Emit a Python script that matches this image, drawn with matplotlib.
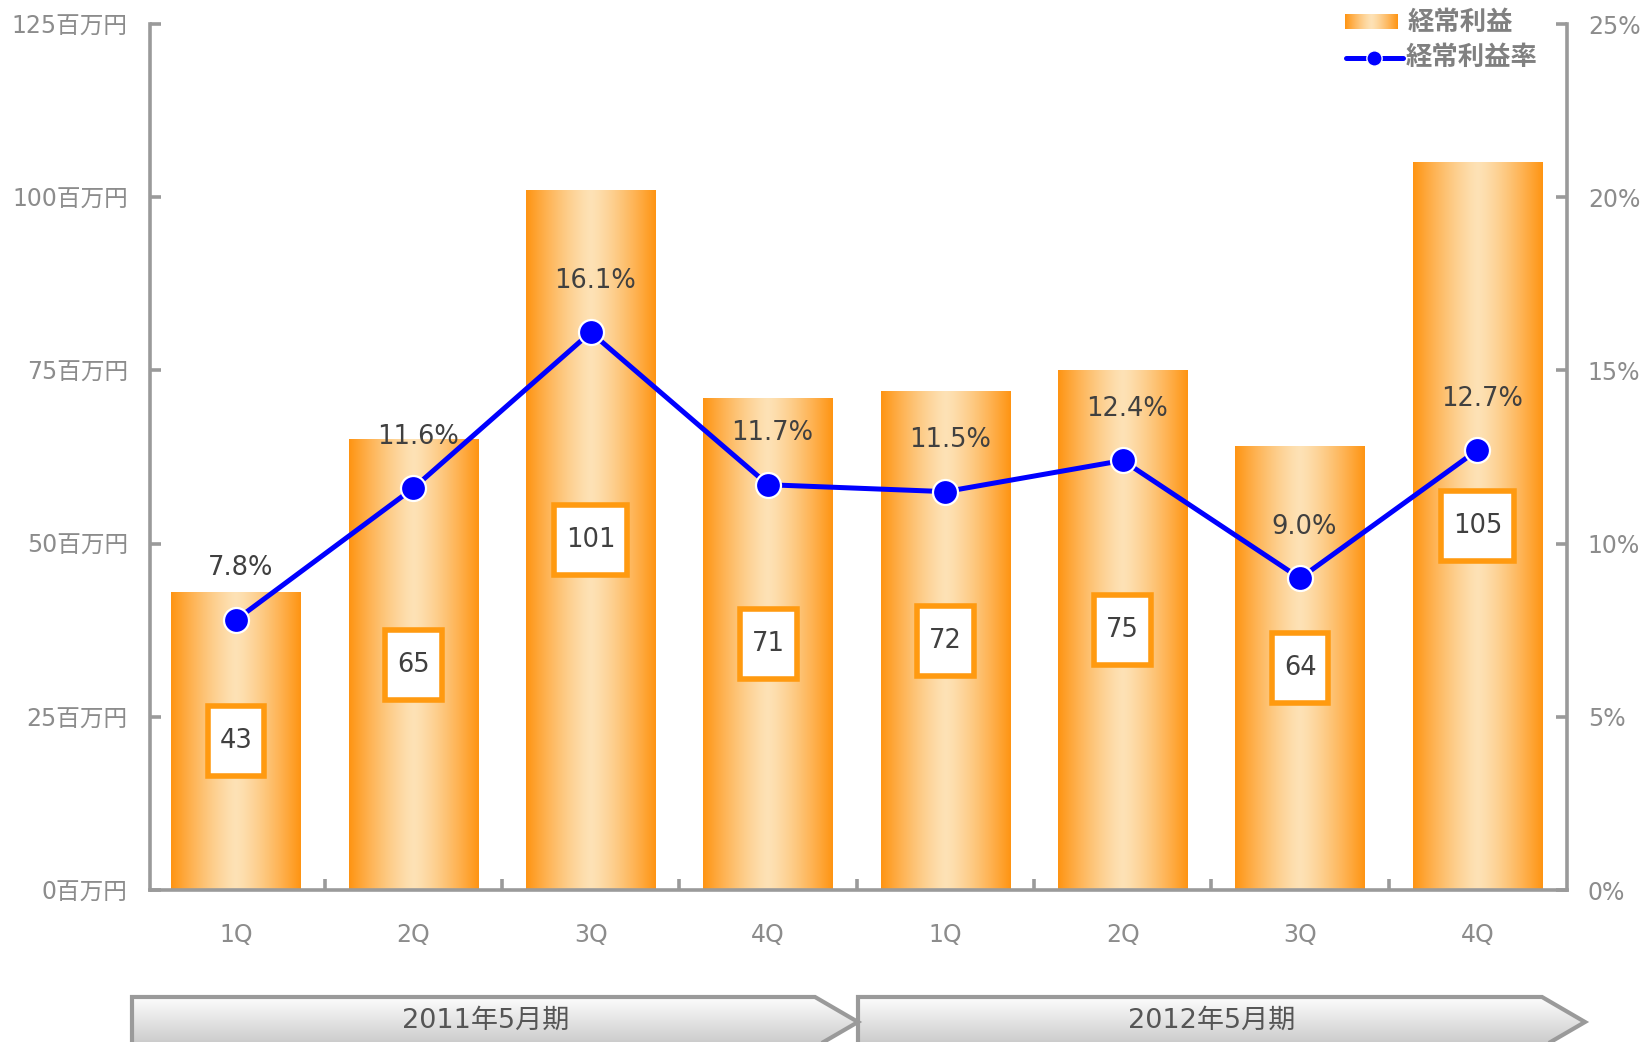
import numpy as np
import matplotlib
matplotlib.use("Agg")
import matplotlib.pyplot as plt
from matplotlib.patches import Polygon
from matplotlib.lines import Line2D
from matplotlib.path import Path
from matplotlib.ticker import FixedLocator, FuncFormatter

plt.rcParams['font.family'] = ['DejaVu Sans', 'Noto Sans CJK JP']

# ---- data ----
quarters = ["1Q", "2Q", "3Q", "4Q", "1Q", "2Q", "3Q", "4Q"]
periods = ["2011年5月期", "2012年5月期"]
profit = [43, 65, 101, 71, 72, 75, 64, 105]          # 百万円
margin = [7.8, 11.6, 16.1, 11.7, 11.5, 12.4, 9.0, 12.7]  # %
left_ticks = [0, 25, 50, 75, 100, 125]
right_ticks = [0, 5, 10, 15, 20, 25]
series_names = ["経常利益", "経常利益率"]

W, H = 1646, 1042
fig = plt.figure(figsize=(W / 100, H / 100), dpi=100)
ax = fig.add_axes([150 / W, 1 - 890 / H, (1567 - 150) / W, (890 - 24) / H])
ax2 = ax.twinx()

GRAY = '#9a9a9a'
TXT = '#404040'
TICKTXT = '#8c8c8c'
ORANGE = np.array([255, 148, 18]) / 255
LIGHT = np.array([253, 226, 182]) / 255

# horizontal gradient for bars
n = 256
t = np.linspace(-1, 1, n)
w = np.clip(np.abs(t), 0, 1) ** 1.3
grad = (LIGHT[None, :] * (1 - w[:, None]) + ORANGE[None, :] * w[:, None])[None, :, :]


def value_box(x0, y0, width, height, mutation_size):
    # fixed-height box, horizontal padding around the text
    cx = x0 + width / 2
    cy = y0 + height / 2
    hw = width / 2 + 12
    hh = 35
    verts = [(cx - hw, cy - hh), (cx + hw, cy - hh), (cx + hw, cy + hh),
             (cx - hw, cy + hh), (cx - hw, cy - hh)]
    return Path(verts, closed=True)


XLIM = (-0.485, 7.505)
x = np.arange(len(quarters))
bars = ax.bar(x, profit, width=0.73, color='none', edgecolor='none', zorder=2)
for b, v in zip(bars, profit):
    bx, by, bw, bh = b.get_x(), b.get_y(), b.get_width(), b.get_height()
    ax.imshow(grad, extent=[bx, bx + bw, by, by + bh], aspect='auto',
              interpolation='bilinear', zorder=2)
    ax.text(bx + bw / 2, by + bh / 2, f"{v}", ha='center', va='center',
            fontsize=18.5, color=TXT, zorder=4,
            bbox=dict(boxstyle=value_box, fc='white', ec='#FF9A10', lw=4))

ax.set_xlim(*XLIM)
ax.set_ylim(0, 125)
ax.set_aspect('auto')

# line
ax2.plot(x, margin, color='#0000FF', lw=3.6, marker='o', markersize=18,
         markerfacecolor='#0000FF', markeredgecolor='white', markeredgewidth=1.6,
         zorder=5, solid_capstyle='round')
for xi, m in zip(x, margin):
    ax2.annotate(f"{m:.1f}%", (xi, m), xytext=(3, 37), textcoords='offset points',
                 ha='center', va='center', fontsize=18.5, color=TXT)
ax2.set_ylim(0, 25)
ax2.set_xlim(*XLIM)

# spines
for s in ['top', 'right']:
    ax.spines[s].set_visible(False)
for s in ['left', 'bottom']:
    ax.spines[s].set_color(GRAY)
    ax.spines[s].set_linewidth(2.6)
for s in ['top', 'left', 'bottom']:
    ax2.spines[s].set_visible(False)
ax2.spines['right'].set_color(GRAY)
ax2.spines['right'].set_linewidth(2.6)

# ticks
ax.yaxis.set_major_locator(FixedLocator(left_ticks))
ax.yaxis.set_major_formatter(FuncFormatter(lambda v, p: f"{int(v)}百万円"))
ax.tick_params(axis='y', direction='in', length=8, width=2.6, color=GRAY,
               labelsize=17, labelcolor=TICKTXT, pad=16)
ax.set_xticks(x)
ax.set_xticklabels(quarters)
ax.tick_params(axis='x', which='major', length=0, labelsize=17,
               labelcolor=TICKTXT, pad=24)
ax.xaxis.set_minor_locator(FixedLocator(np.arange(0.5, 7, 1.0)))
ax.tick_params(axis='x', which='minor', direction='in', length=8, width=2.6, color=GRAY)

ax2.yaxis.set_major_locator(FixedLocator(right_ticks))
ax2.yaxis.set_major_formatter(FuncFormatter(lambda v, p: f"{int(v)}%"))
ax2.tick_params(axis='y', direction='in', length=8, width=2.6, color=GRAY,
                labelsize=17, labelcolor=TICKTXT, pad=15)

# ---- legend (manual) ----
lax = fig.add_axes([0, 0, 1, 1], zorder=10)
lax.set_xlim(0, W)
lax.set_ylim(H, 0)
lax.axis('off')
lax.patch.set_visible(False)
lax.imshow(grad, extent=[1345, 1398, 29, 14], aspect='auto', interpolation='bilinear')
lax.text(1408, 23, series_names[0], ha='left', va='center', fontsize=19,
         fontweight='bold', color='#808080')
lax.add_line(Line2D([1346, 1403], [58, 58], color='#0000FF', lw=3.6,
                    solid_capstyle='round'))
lax.plot([1374], [58], marker='o', markersize=11, color='#0000FF',
         markeredgecolor='white', markeredgewidth=1)
lax.text(1406, 58, series_names[1], ha='left', va='center', fontsize=19,
         fontweight='bold', color='#808080')
lax.set_xlim(0, W)
lax.set_ylim(H, 0)

# ---- period arrows ----
bax = fig.add_axes([0, 0, 1, 1], zorder=-1)
bax.set_xlim(0, W)
bax.set_ylim(H, 0)
bax.axis('off')
vgrad = np.linspace(0, 1, 256)[:, None]
top_c = np.array([0.995, 0.995, 0.995])
bot_c = np.array([0.78, 0.78, 0.78])
vimg = (top_c[None, None, :] * (1 - vgrad[:, :, None]) + bot_c[None, None, :] * vgrad[:, :, None])
arrows = [(132, 815, 858), (858, 1542, 1585)]
for (x0, xb, xt), label in zip(arrows, periods):
    pts = [(x0, 1047), (x0, 997), (xb, 997), (xt, 1022), (xb, 1047)]
    poly = Polygon(pts, closed=True, fc='none', ec=GRAY, lw=3, zorder=3)
    bax.add_patch(poly)
    im = bax.imshow(vimg, extent=[x0, xt, 1047, 997], aspect='auto', zorder=2,
                    interpolation='bilinear')
    im.set_clip_path(poly)
    bax.text((x0 + xb) / 2 + 12, 1021, label, ha='center', va='center',
             fontsize=19.5, color='#555555', zorder=4)
bax.set_xlim(0, W)
bax.set_ylim(H, 0)

fig.savefig("out.png", dpi=100)
